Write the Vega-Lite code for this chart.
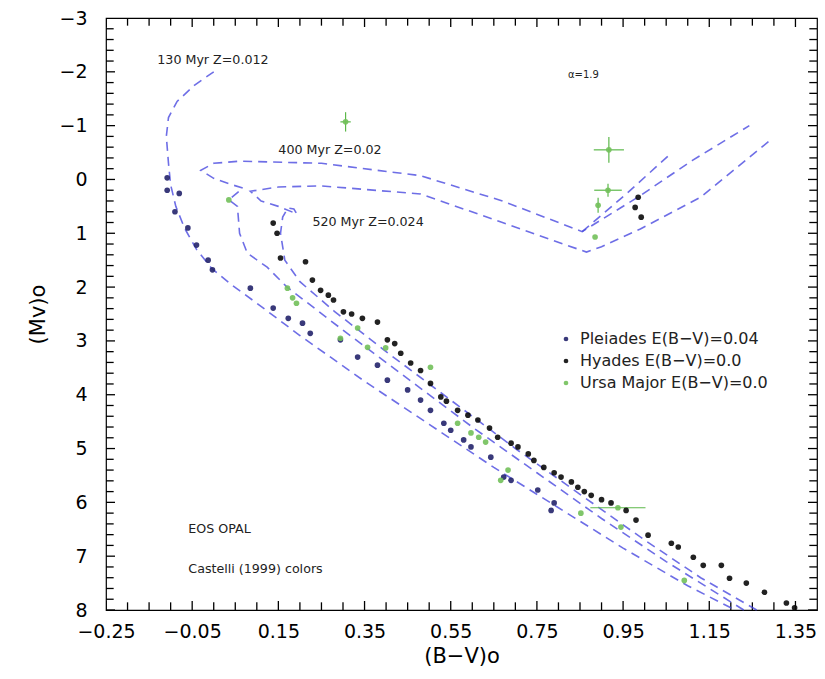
{
  "$schema": "https://vega.github.io/schema/vega-lite/v6.json",
  "width": 711,
  "height": 592,
  "autosize": "none",
  "padding": {"left": 106, "top": 18, "right": 8, "bottom": 69},
  "background": "white",
  "config": {
    "view": {"stroke": "black", "strokeWidth": 1.2},
    "font": "DejaVu Sans",
    "axis": {"grid": false, "domain": false, "labelColor": "black", "titleColor": "black", "titleFontWeight": "normal"}
  },
  "datasets": {
    "stars": [
      {"cl": "Pleiades", "bv": -0.108, "mv": -0.03}, {"cl": "Pleiades", "bv": -0.108, "mv": 0.2}, {"cl": "Pleiades", "bv": -0.08, "mv": 0.26},
      {"cl": "Pleiades", "bv": -0.09, "mv": 0.6}, {"cl": "Pleiades", "bv": -0.06, "mv": 0.9}, {"cl": "Pleiades", "bv": -0.04, "mv": 1.22},
      {"cl": "Pleiades", "bv": -0.013, "mv": 1.5}, {"cl": "Pleiades", "bv": -0.003, "mv": 1.68}, {"cl": "Pleiades", "bv": 0.085, "mv": 2.02},
      {"cl": "Pleiades", "bv": 0.138, "mv": 2.39}, {"cl": "Pleiades", "bv": 0.173, "mv": 2.58}, {"cl": "Pleiades", "bv": 0.206, "mv": 2.67},
      {"cl": "Pleiades", "bv": 0.224, "mv": 2.86}, {"cl": "Pleiades", "bv": 0.294, "mv": 2.98}, {"cl": "Pleiades", "bv": 0.334, "mv": 3.3},
      {"cl": "Pleiades", "bv": 0.38, "mv": 3.45}, {"cl": "Pleiades", "bv": 0.403, "mv": 3.73}, {"cl": "Pleiades", "bv": 0.45, "mv": 3.91},
      {"cl": "Pleiades", "bv": 0.48, "mv": 4.1}, {"cl": "Pleiades", "bv": 0.503, "mv": 4.29}, {"cl": "Pleiades", "bv": 0.534, "mv": 4.53},
      {"cl": "Pleiades", "bv": 0.55, "mv": 4.66}, {"cl": "Pleiades", "bv": 0.58, "mv": 4.84}, {"cl": "Pleiades", "bv": 0.597, "mv": 4.97},
      {"cl": "Pleiades", "bv": 0.643, "mv": 5.16}, {"cl": "Pleiades", "bv": 0.673, "mv": 5.53}, {"cl": "Pleiades", "bv": 0.69, "mv": 5.59},
      {"cl": "Pleiades", "bv": 0.752, "mv": 5.77}, {"cl": "Pleiades", "bv": 0.79, "mv": 6.01}, {"cl": "Pleiades", "bv": 0.783, "mv": 6.15},
      {"cl": "Hyades", "bv": 0.138, "mv": 0.81}, {"cl": "Hyades", "bv": 0.147, "mv": 1.0}, {"cl": "Hyades", "bv": 0.155, "mv": 1.46},
      {"cl": "Hyades", "bv": 0.213, "mv": 1.53}, {"cl": "Hyades", "bv": 0.229, "mv": 1.87}, {"cl": "Hyades", "bv": 0.248, "mv": 2.06},
      {"cl": "Hyades", "bv": 0.266, "mv": 2.15}, {"cl": "Hyades", "bv": 0.278, "mv": 2.24}, {"cl": "Hyades", "bv": 0.301, "mv": 2.46},
      {"cl": "Hyades", "bv": 0.32, "mv": 2.5}, {"cl": "Hyades", "bv": 0.345, "mv": 2.58}, {"cl": "Hyades", "bv": 0.38, "mv": 2.65},
      {"cl": "Hyades", "bv": 0.403, "mv": 2.98}, {"cl": "Hyades", "bv": 0.42, "mv": 3.05}, {"cl": "Hyades", "bv": 0.434, "mv": 3.23},
      {"cl": "Hyades", "bv": 0.457, "mv": 3.41}, {"cl": "Hyades", "bv": 0.48, "mv": 3.55}, {"cl": "Hyades", "bv": 0.503, "mv": 3.79},
      {"cl": "Hyades", "bv": 0.527, "mv": 4.04}, {"cl": "Hyades", "bv": 0.54, "mv": 4.12}, {"cl": "Hyades", "bv": 0.566, "mv": 4.29},
      {"cl": "Hyades", "bv": 0.59, "mv": 4.38}, {"cl": "Hyades", "bv": 0.613, "mv": 4.47}, {"cl": "Hyades", "bv": 0.64, "mv": 4.62},
      {"cl": "Hyades", "bv": 0.659, "mv": 4.79}, {"cl": "Hyades", "bv": 0.69, "mv": 4.9}, {"cl": "Hyades", "bv": 0.706, "mv": 4.97},
      {"cl": "Hyades", "bv": 0.73, "mv": 5.1}, {"cl": "Hyades", "bv": 0.743, "mv": 5.22}, {"cl": "Hyades", "bv": 0.766, "mv": 5.35},
      {"cl": "Hyades", "bv": 0.79, "mv": 5.45}, {"cl": "Hyades", "bv": 0.806, "mv": 5.53}, {"cl": "Hyades", "bv": 0.83, "mv": 5.62},
      {"cl": "Hyades", "bv": 0.845, "mv": 5.72}, {"cl": "Hyades", "bv": 0.86, "mv": 5.8}, {"cl": "Hyades", "bv": 0.876, "mv": 5.87},
      {"cl": "Hyades", "bv": 0.9, "mv": 5.95}, {"cl": "Hyades", "bv": 0.922, "mv": 6.01}, {"cl": "Hyades", "bv": 0.957, "mv": 6.15},
      {"cl": "Hyades", "bv": 0.98, "mv": 6.33}, {"cl": "Hyades", "bv": 1.008, "mv": 6.61}, {"cl": "Hyades", "bv": 1.062, "mv": 6.76},
      {"cl": "Hyades", "bv": 1.078, "mv": 6.83}, {"cl": "Hyades", "bv": 1.113, "mv": 7.02}, {"cl": "Hyades", "bv": 1.136, "mv": 7.17},
      {"cl": "Hyades", "bv": 1.178, "mv": 7.17}, {"cl": "Hyades", "bv": 1.197, "mv": 7.41}, {"cl": "Hyades", "bv": 1.236, "mv": 7.5},
      {"cl": "Hyades", "bv": 1.278, "mv": 7.67}, {"cl": "Hyades", "bv": 1.329, "mv": 7.87}, {"cl": "Hyades", "bv": 1.348, "mv": 7.96},
      {"cl": "Hyades", "bv": 0.985, "mv": 0.33}, {"cl": "Hyades", "bv": 0.978, "mv": 0.52}, {"cl": "Hyades", "bv": 0.992, "mv": 0.7},
      {"cl": "Ursa Major", "bv": 0.306, "mv": -1.07, "bv_lo": 0.294, "bv_hi": 0.318, "mv_lo": -1.25, "mv_hi": -0.89},
      {"cl": "Ursa Major", "bv": 0.917, "mv": -0.55, "bv_lo": 0.882, "bv_hi": 0.952, "mv_lo": -0.79, "mv_hi": -0.31},
      {"cl": "Ursa Major", "bv": 0.915, "mv": 0.2, "bv_lo": 0.883, "bv_hi": 0.947, "mv_lo": 0.08, "mv_hi": 0.32},
      {"cl": "Ursa Major", "bv": 0.892, "mv": 0.48, "mv_lo": 0.34, "mv_hi": 0.62},
      {"cl": "Ursa Major", "bv": 0.885, "mv": 1.07}, {"cl": "Ursa Major", "bv": 0.035, "mv": 0.38},
      {"cl": "Ursa Major", "bv": 0.171, "mv": 2.02}, {"cl": "Ursa Major", "bv": 0.183, "mv": 2.2}, {"cl": "Ursa Major", "bv": 0.192, "mv": 2.3},
      {"cl": "Ursa Major", "bv": 0.294, "mv": 2.95}, {"cl": "Ursa Major", "bv": 0.334, "mv": 2.76}, {"cl": "Ursa Major", "bv": 0.357, "mv": 3.12},
      {"cl": "Ursa Major", "bv": 0.399, "mv": 3.13}, {"cl": "Ursa Major", "bv": 0.503, "mv": 3.49}, {"cl": "Ursa Major", "bv": 0.566, "mv": 4.53},
      {"cl": "Ursa Major", "bv": 0.597, "mv": 4.71}, {"cl": "Ursa Major", "bv": 0.615, "mv": 4.79}, {"cl": "Ursa Major", "bv": 0.631, "mv": 4.88},
      {"cl": "Ursa Major", "bv": 0.683, "mv": 5.4}, {"cl": "Ursa Major", "bv": 0.666, "mv": 5.59}, {"cl": "Ursa Major", "bv": 0.852, "mv": 6.2},
      {"cl": "Ursa Major", "bv": 0.938, "mv": 6.1, "bv_lo": 0.874, "bv_hi": 1.002},
      {"cl": "Ursa Major", "bv": 0.945, "mv": 6.46}, {"cl": "Ursa Major", "bv": 1.092, "mv": 7.45}
    ],
    "iso": [
      {"iso": "130", "i": 1, "bv": 0.0, "mv": -2.0}, {"iso": "130", "i": 2, "bv": -0.045, "mv": -1.75}, {"iso": "130", "i": 3, "bv": -0.085, "mv": -1.45},
      {"iso": "130", "i": 4, "bv": -0.105, "mv": -1.15}, {"iso": "130", "i": 5, "bv": -0.11, "mv": -0.8}, {"iso": "130", "i": 6, "bv": -0.105, "mv": -0.3},
      {"iso": "130", "i": 7, "bv": -0.1, "mv": 0.1}, {"iso": "130", "i": 8, "bv": -0.088, "mv": 0.5}, {"iso": "130", "i": 9, "bv": -0.068, "mv": 0.9},
      {"iso": "130", "i": 10, "bv": -0.04, "mv": 1.3}, {"iso": "130", "i": 11, "bv": -0.005, "mv": 1.65}, {"iso": "130", "i": 12, "bv": 0.04, "mv": 1.95},
      {"iso": "130", "i": 13, "bv": 0.1, "mv": 2.3}, {"iso": "130", "i": 14, "bv": 0.2, "mv": 2.9}, {"iso": "130", "i": 15, "bv": 0.35, "mv": 3.75},
      {"iso": "130", "i": 16, "bv": 0.5, "mv": 4.55}, {"iso": "130", "i": 17, "bv": 0.65, "mv": 5.35}, {"iso": "130", "i": 18, "bv": 0.8, "mv": 6.1},
      {"iso": "130", "i": 19, "bv": 0.95, "mv": 6.85}, {"iso": "130", "i": 20, "bv": 1.1, "mv": 7.55}, {"iso": "130", "i": 21, "bv": 1.21, "mv": 8.0},
      {"iso": "400", "i": 1, "bv": 1.23, "mv": 8.0}, {"iso": "400", "i": 2, "bv": 1.17, "mv": 7.7}, {"iso": "400", "i": 3, "bv": 1.05, "mv": 7.1},
      {"iso": "400", "i": 4, "bv": 0.9, "mv": 6.3}, {"iso": "400", "i": 5, "bv": 0.75, "mv": 5.45}, {"iso": "400", "i": 6, "bv": 0.6, "mv": 4.6},
      {"iso": "400", "i": 7, "bv": 0.45, "mv": 3.7}, {"iso": "400", "i": 8, "bv": 0.3, "mv": 2.8}, {"iso": "400", "i": 9, "bv": 0.17, "mv": 2.0},
      {"iso": "400", "i": 10, "bv": 0.124, "mv": 1.63}, {"iso": "400", "i": 11, "bv": 0.078, "mv": 1.37}, {"iso": "400", "i": 12, "bv": 0.06, "mv": 1.0},
      {"iso": "400", "i": 13, "bv": 0.055, "mv": 0.5}, {"iso": "400", "i": 14, "bv": 0.035, "mv": 0.38}, {"iso": "400", "i": 15, "bv": 0.068, "mv": 0.16},
      {"iso": "400", "i": 16, "bv": 0.035, "mv": 0.08}, {"iso": "400", "i": 17, "bv": 0.0, "mv": -0.02}, {"iso": "400", "i": 18, "bv": -0.03, "mv": -0.17},
      {"iso": "400", "i": 19, "bv": 0.0, "mv": -0.3}, {"iso": "400", "i": 20, "bv": 0.06, "mv": -0.34}, {"iso": "400", "i": 21, "bv": 0.25, "mv": -0.3},
      {"iso": "400", "i": 22, "bv": 0.48, "mv": -0.07}, {"iso": "400", "i": 23, "bv": 0.67, "mv": 0.4}, {"iso": "400", "i": 24, "bv": 0.855, "mv": 0.97},
      {"iso": "400", "i": 25, "bv": 0.99, "mv": 0.3}, {"iso": "400", "i": 26, "bv": 1.11, "mv": -0.35}, {"iso": "400", "i": 27, "bv": 1.243, "mv": -1.0},
      {"iso": "400b", "i": 1, "bv": 0.855, "mv": 0.97}, {"iso": "400b", "i": 2, "bv": 0.96, "mv": 0.25}, {"iso": "400b", "i": 3, "bv": 1.062, "mv": -0.49},
      {"iso": "520", "i": 1, "bv": 1.26, "mv": 8.0}, {"iso": "520", "i": 2, "bv": 1.13, "mv": 7.4}, {"iso": "520", "i": 3, "bv": 1.0, "mv": 6.7},
      {"iso": "520", "i": 4, "bv": 0.85, "mv": 5.85}, {"iso": "520", "i": 5, "bv": 0.7, "mv": 5.0}, {"iso": "520", "i": 6, "bv": 0.55, "mv": 4.1},
      {"iso": "520", "i": 7, "bv": 0.4, "mv": 3.2}, {"iso": "520", "i": 8, "bv": 0.28, "mv": 2.45}, {"iso": "520", "i": 9, "bv": 0.2, "mv": 1.9},
      {"iso": "520", "i": 10, "bv": 0.165, "mv": 1.5}, {"iso": "520", "i": 11, "bv": 0.155, "mv": 1.0}, {"iso": "520", "i": 12, "bv": 0.16, "mv": 0.7},
      {"iso": "520", "i": 13, "bv": 0.172, "mv": 0.53}, {"iso": "520", "i": 14, "bv": 0.186, "mv": 0.55}, {"iso": "520", "i": 15, "bv": 0.193, "mv": 0.64},
      {"iso": "520", "i": 16, "bv": 0.15, "mv": 0.5}, {"iso": "520", "i": 17, "bv": 0.11, "mv": 0.4}, {"iso": "520", "i": 18, "bv": 0.085, "mv": 0.22},
      {"iso": "520", "i": 19, "bv": 0.15, "mv": 0.14}, {"iso": "520", "i": 20, "bv": 0.25, "mv": 0.12}, {"iso": "520", "i": 21, "bv": 0.48, "mv": 0.27},
      {"iso": "520", "i": 22, "bv": 0.67, "mv": 0.8}, {"iso": "520", "i": 23, "bv": 0.865, "mv": 1.35}, {"iso": "520", "i": 24, "bv": 0.9, "mv": 1.25},
      {"iso": "520", "i": 25, "bv": 0.99, "mv": 0.92}, {"iso": "520", "i": 26, "bv": 1.13, "mv": 0.33}, {"iso": "520", "i": 27, "bv": 1.29, "mv": -0.72}
    ],
    "notes": [
      {"t": "130 Myr  Z=0.012", "bv": -0.131, "mv": -2.22, "fs": "big"},
      {"t": "400 Myr  Z=0.02", "bv": 0.15, "mv": -0.55, "fs": "big"},
      {"t": "520 Myr  Z=0.024", "bv": 0.229, "mv": 0.79, "fs": "big"},
      {"t": "α=1.9", "bv": 0.822, "mv": -1.94, "fs": "small"},
      {"t": "EOS OPAL", "bv": -0.059, "mv": 6.5, "fs": "big"},
      {"t": "Castelli (1999) colors", "bv": -0.059, "mv": 7.24, "fs": "big"}
    ],
    "xticks": [
      {"v": -0.25, "k": "major"}, {"v": -0.2, "k": "minor"}, {"v": -0.15, "k": "minor"}, {"v": -0.1, "k": "minor"},
      {"v": -0.05, "k": "major"}, {"v": 0.0, "k": "minor"}, {"v": 0.05, "k": "minor"}, {"v": 0.1, "k": "minor"},
      {"v": 0.15, "k": "major"}, {"v": 0.2, "k": "minor"}, {"v": 0.25, "k": "minor"}, {"v": 0.3, "k": "minor"},
      {"v": 0.35, "k": "major"}, {"v": 0.4, "k": "minor"}, {"v": 0.45, "k": "minor"}, {"v": 0.5, "k": "minor"},
      {"v": 0.55, "k": "major"}, {"v": 0.6, "k": "minor"}, {"v": 0.65, "k": "minor"}, {"v": 0.7, "k": "minor"},
      {"v": 0.75, "k": "major"}, {"v": 0.8, "k": "minor"}, {"v": 0.85, "k": "minor"}, {"v": 0.9, "k": "minor"},
      {"v": 0.95, "k": "major"}, {"v": 1.0, "k": "minor"}, {"v": 1.05, "k": "minor"}, {"v": 1.1, "k": "minor"},
      {"v": 1.15, "k": "major"}, {"v": 1.2, "k": "minor"}, {"v": 1.25, "k": "minor"}, {"v": 1.3, "k": "minor"},
      {"v": 1.35, "k": "major"}
    ],
    "yticks": [
      {"v": -3, "k": "major"}, {"v": -2.8, "k": "minor"}, {"v": -2.6, "k": "minor"}, {"v": -2.4, "k": "minor"}, {"v": -2.2, "k": "minor"},
      {"v": -2, "k": "major"}, {"v": -1.8, "k": "minor"}, {"v": -1.6, "k": "minor"}, {"v": -1.4, "k": "minor"}, {"v": -1.2, "k": "minor"},
      {"v": -1, "k": "major"}, {"v": -0.8, "k": "minor"}, {"v": -0.6, "k": "minor"}, {"v": -0.4, "k": "minor"}, {"v": -0.2, "k": "minor"},
      {"v": 0, "k": "major"}, {"v": 0.2, "k": "minor"}, {"v": 0.4, "k": "minor"}, {"v": 0.6, "k": "minor"}, {"v": 0.8, "k": "minor"},
      {"v": 1, "k": "major"}, {"v": 1.2, "k": "minor"}, {"v": 1.4, "k": "minor"}, {"v": 1.6, "k": "minor"}, {"v": 1.8, "k": "minor"},
      {"v": 2, "k": "major"}, {"v": 2.2, "k": "minor"}, {"v": 2.4, "k": "minor"}, {"v": 2.6, "k": "minor"}, {"v": 2.8, "k": "minor"},
      {"v": 3, "k": "major"}, {"v": 3.2, "k": "minor"}, {"v": 3.4, "k": "minor"}, {"v": 3.6, "k": "minor"}, {"v": 3.8, "k": "minor"},
      {"v": 4, "k": "major"}, {"v": 4.2, "k": "minor"}, {"v": 4.4, "k": "minor"}, {"v": 4.6, "k": "minor"}, {"v": 4.8, "k": "minor"},
      {"v": 5, "k": "major"}, {"v": 5.2, "k": "minor"}, {"v": 5.4, "k": "minor"}, {"v": 5.6, "k": "minor"}, {"v": 5.8, "k": "minor"},
      {"v": 6, "k": "major"}, {"v": 6.2, "k": "minor"}, {"v": 6.4, "k": "minor"}, {"v": 6.6, "k": "minor"}, {"v": 6.8, "k": "minor"},
      {"v": 7, "k": "major"}, {"v": 7.2, "k": "minor"}, {"v": 7.4, "k": "minor"}, {"v": 7.6, "k": "minor"}, {"v": 7.8, "k": "minor"},
      {"v": 8, "k": "major"}
    ],
    "frame": [{"bv": 0.5, "mv": 2.0}]
  },
  "layer": [
    {
      "data": {"name": "frame"},
      "mark": {"type": "point", "opacity": 0},
      "encoding": {
        "x": {"field": "bv", "type": "quantitative", "scale": {"domain": [-0.25, 1.4], "nice": false, "zero": false},
          "axis": {"orient": "bottom", "title": "(B−V)o", "titleFontSize": 21, "titlePadding": 4, "ticks": false,
            "values": [-0.25,-0.05,0.15,0.35,0.55,0.75,0.95,1.15,1.35],
            "format": ".2f", "labelFontSize": 19, "labelPadding": 12, "labelFlush": false, "labelOverlap": false}},
        "y": {"field": "mv", "type": "quantitative", "scale": {"domain": [-3, 8], "nice": false, "zero": false, "reverse": true},
          "axis": {"orient": "left", "title": "(Mv)o", "titleFontSize": 21, "titlePadding": 10, "ticks": false,
            "values": [-3,-2,-1,0,1,2,3,4,5,6,7,8],
            "format": "d", "labelFontSize": 19, "labelPadding": 19, "labelFlush": false, "labelOverlap": false}}
      }
    },
    {
      "data": {"name": "xticks"},
      "mark": {"type": "tick", "orient": "vertical", "clip": true, "color": "black", "thickness": 1.3, "opacity": 1},
      "encoding": {
        "x": {"field": "v", "type": "quantitative"},
        "y": {"datum": 8, "type": "quantitative"},
        "size": {"field": "k", "type": "nominal", "scale": {"domain": ["major", "minor"], "range": [18, 10]}, "legend": null}
      }
    },
    {
      "data": {"name": "xticks"},
      "mark": {"type": "tick", "orient": "vertical", "clip": true, "color": "black", "thickness": 1.3, "opacity": 1},
      "encoding": {
        "x": {"field": "v", "type": "quantitative"},
        "y": {"datum": -3, "type": "quantitative"},
        "size": {"field": "k", "type": "nominal", "scale": {"domain": ["major", "minor"], "range": [18, 10]}, "legend": null}
      }
    },
    {
      "data": {"name": "yticks"},
      "mark": {"type": "tick", "orient": "horizontal", "clip": true, "color": "black", "thickness": 1.3, "opacity": 1},
      "encoding": {
        "x": {"datum": -0.25, "type": "quantitative"},
        "y": {"field": "v", "type": "quantitative"},
        "size": {"field": "k", "type": "nominal", "scale": {"domain": ["major", "minor"], "range": [18, 10]}, "legend": null}
      }
    },
    {
      "data": {"name": "yticks"},
      "mark": {"type": "tick", "orient": "horizontal", "clip": true, "color": "black", "thickness": 1.3, "opacity": 1},
      "encoding": {
        "x": {"datum": 1.4, "type": "quantitative"},
        "y": {"field": "v", "type": "quantitative"},
        "size": {"field": "k", "type": "nominal", "scale": {"domain": ["major", "minor"], "range": [18, 10]}, "legend": null}
      }
    },
    {
      "data": {"name": "iso"},
      "mark": {"type": "line", "strokeDash": [9, 6], "strokeWidth": 1.6, "color": "#4a4ae0", "opacity": 0.8},
      "encoding": {
        "x": {"field": "bv", "type": "quantitative"},
        "y": {"field": "mv", "type": "quantitative"},
        "detail": {"field": "iso"},
        "order": {"field": "i", "type": "quantitative"}
      }
    },
    {
      "data": {"name": "stars"},
      "transform": [{"filter": "isValid(datum.bv_lo)"}],
      "mark": {"type": "rule", "color": "#5cb84a", "strokeWidth": 1.2},
      "encoding": {
        "x": {"field": "bv_lo", "type": "quantitative"},
        "x2": {"field": "bv_hi"},
        "y": {"field": "mv", "type": "quantitative"}
      }
    },
    {
      "data": {"name": "stars"},
      "transform": [{"filter": "isValid(datum.mv_lo)"}],
      "mark": {"type": "rule", "color": "#5cb84a", "strokeWidth": 1.2},
      "encoding": {
        "x": {"field": "bv", "type": "quantitative"},
        "y": {"field": "mv_lo", "type": "quantitative"},
        "y2": {"field": "mv_hi"}
      }
    },
    {
      "data": {"name": "stars"},
      "mark": {"type": "point", "filled": true, "shape": "circle", "size": 32, "opacity": 0.9},
      "encoding": {
        "x": {"field": "bv", "type": "quantitative"},
        "y": {"field": "mv", "type": "quantitative"},
        "color": {"field": "cl", "type": "nominal",
          "scale": {"domain": ["Pleiades", "Hyades", "Ursa Major"], "range": ["#23236b", "#0a0a0a", "#72c05a"]},
          "legend": {"orient": "none", "legendX": 452, "legendY": 313, "title": null, "symbolSize": 22, "symbolType": "circle",
            "labelFontSize": 16, "rowPadding": 6, "labelOffset": 6, "labelColor": "#222222", "labelLimit": 400,
            "labelExpr": "datum.label + (datum.label == 'Pleiades' ? ' E(B−V)=0.04' : ' E(B−V)=0.0')"}}
      }
    },
    {
      "data": {"name": "notes"},
      "mark": {"type": "text", "align": "left", "baseline": "middle", "color": "#222222"},
      "encoding": {
        "x": {"field": "bv", "type": "quantitative"},
        "y": {"field": "mv", "type": "quantitative"},
        "text": {"field": "t"},
        "size": {"field": "fs", "type": "nominal", "scale": {"domain": ["big", "small"], "range": [16, 12]}, "legend": null}
      }
    }
  ]
}
